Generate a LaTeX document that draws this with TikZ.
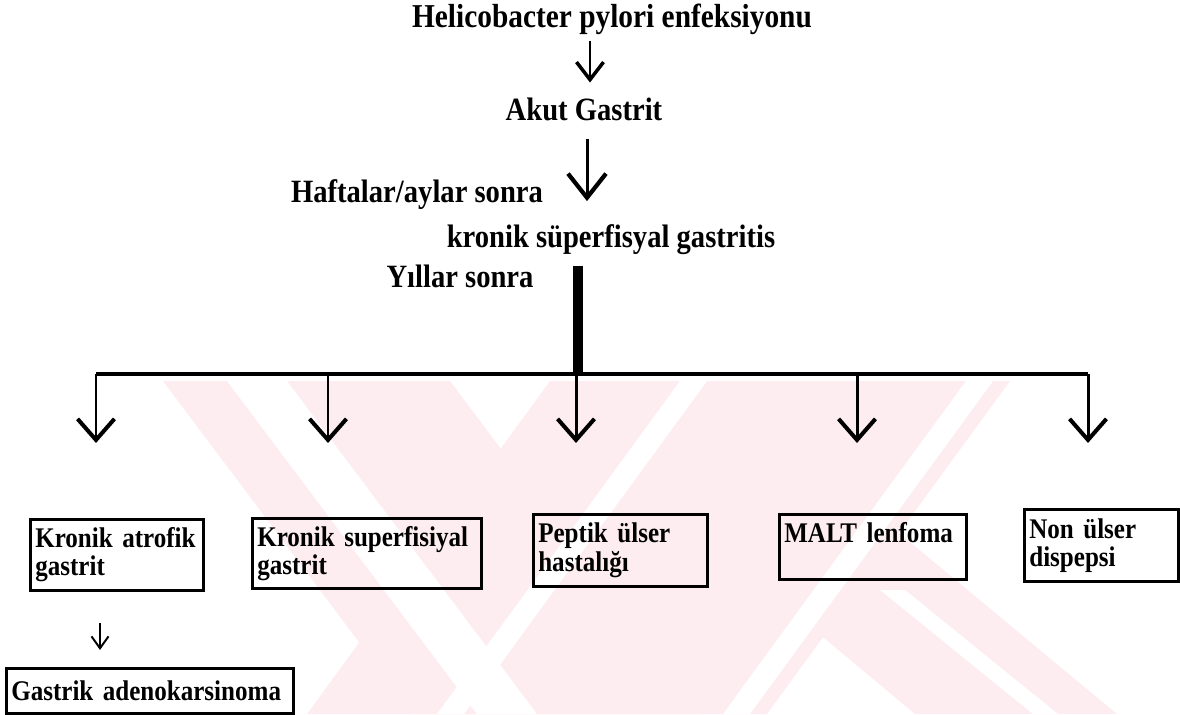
\documentclass[tikz,border=0pt]{standalone}
\usepackage{fontspec}
\setmainfont{Liberation Serif}[FakeStretch=0.88]
\usetikzlibrary{arrows.meta}
\definecolor{wmpink}{RGB}{253,237,240}
\tikzset{
  stage/.style={
      inner sep=0pt,
      anchor=base,
      font=\bfseries\fontsize{18.5}{22}\selectfont
  },
  finding/.style={
      rectangle,
      draw,
      line width=1.5pt,
      anchor=north west,
      inner xsep=0.1cm,
      inner ysep=0pt,
      align=left,
      font=\bfseries\fontsize{16.2}{16}\selectfont
  },
  flow/.style={
      line width=1.7pt,
      -{Straight Barb[length=12pt,width=21pt,line width=2.3pt]}
  }
}

\begin{document}
\begin{tikzpicture}[x=0.02cm,y=-0.02cm]
    \useasboundingbox (0,0) rectangle (1180,714);
    % faint logo in the background
    \fill[wmpink] (163,381) -- (450,381) -- (700,714) -- (413,714) -- cycle;
    \fill[wmpink] (550,381) -- (1010,381) -- (767,714) -- (307,714) -- cycle;
    \fill[wmpink] (899,533) -- (1117,714) -- (915,714) -- (800,618) -- cycle;
    \fill[white] (227,381) -- (287,381) -- (537,714) -- (477,714) -- cycle;
    \fill[white] (680,381) -- (707,381) -- (464,714) -- (437,714) -- cycle;
    \fill[white] (966,381) -- (993,381) -- (750,714) -- (723,714) -- cycle;
    \fill[white] (880,590) -- (905,590) -- (1058,714) -- (1033,714) -- cycle;

    \node[stage,font=\bfseries\fontsize{19}{22}\selectfont] (hpylori) at (612,27) {Helicobacter pylori enfeksiyonu};
    \node[stage] (akut) at (584,120) {Akut Gastrit};
    \node[stage] (weeks) at (417,202) {Haftalar/aylar sonra};
    \node[stage] (chronic) at (611,247) {kronik süperfisyal gastritis};
    \node[stage] (years) at (460,287) {Yıllar sonra};

    \node[finding,text width=3.26cm,minimum height=1.42cm] (atrofik) at (29,518) {Kronik atrofik\\gastrit};
    \node[finding,text width=4.38cm,minimum height=1.40cm] (superf) at (251,517) {Kronik superfisiyal\\gastrit};
    \node[finding,text width=3.28cm,minimum height=1.44cm] (peptik) at (532,513) {Peptik ülser\\hastalığı};
    \node[finding,text width=3.54cm,minimum height=1.30cm] (malt) at (778,513) {MALT lenfoma\\~};
    \node[finding,text width=2.88cm,minimum height=1.44cm] (nonulser) at (1023,508) {Non ülser\\dispepsi};
    \node[finding,text width=5.54cm,minimum height=0.90cm] (adeno) at (5,667) {Gastrik adenokarsinoma};

    \coordinate (col1) at (590,0);
    \coordinate (col2) at (587,0);
    \coordinate (col3) at (100,0);
    \coordinate (junction) at (578,374);
    \coordinate (br1) at (96,374);
    \coordinate (br2) at (328,374);
    \coordinate (br3) at (576,374);
    \coordinate (br4) at (857,374);
    \coordinate (br5) at (1088,374);
    \coordinate (tips) at (0,443);

    \draw[flow,line width=1.4pt,-{Straight Barb[length=10pt,width=15.4pt,line width=2pt]},shorten <=3.4pt,shorten >=8.3pt] (hpylori.south -| col1) -- (akut.north -| col1);
    \draw[flow,-{Straight Barb[length=13.7pt,width=21.6pt,line width=2.4pt]},shorten <=10.2pt,shorten >=12.9pt] (akut.south -| col2) -- (chronic.north -| col2);
    \draw[line width=5.5pt,shorten <=6.3pt] (chronic.south -| junction) -- (junction);
    \draw[line width=2.3pt] (br1) -- (br5);
    \draw[flow] (br1) -- (br1 |- tips);
    \draw[flow] (br2) -- (br2 |- tips);
    \draw[flow] (br3) -- (br3 |- tips);
    \draw[flow] (br4) -- (br4 |- tips);
    \draw[flow] (br5) -- (br5 |- tips);
    \draw[line width=1.1pt,-{Straight Barb[length=6.8pt,width=9.7pt]},shorten <=17.6pt,shorten >=9.7pt] (atrofik.south -| col3) -- (adeno.north -| col3);
\end{tikzpicture}
\end{document}
